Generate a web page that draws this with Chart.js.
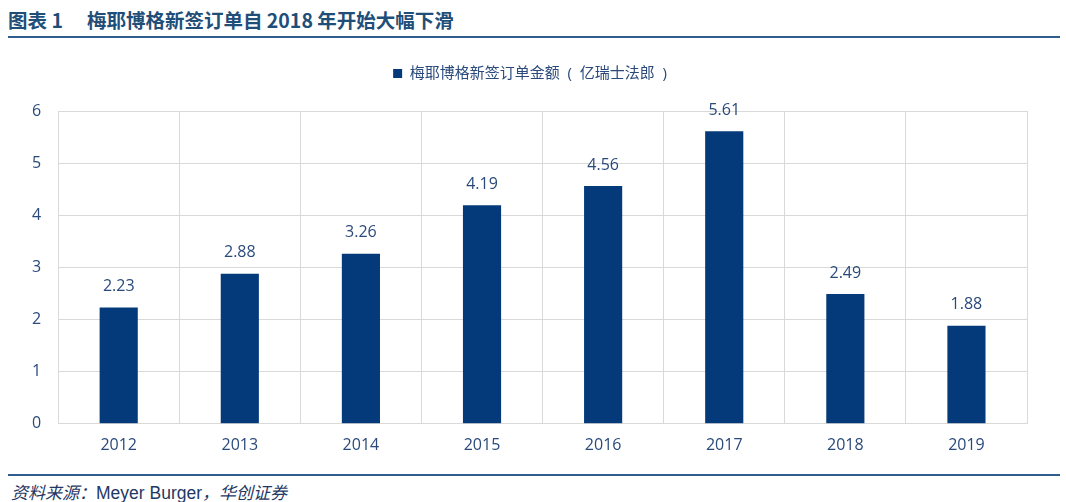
<!DOCTYPE html>
<html lang="zh">
<head>
    <meta charset="UTF-8">
    <title>梅耶博格新签订单</title>
    <script src="https://cdn.jsdelivr.net/npm/chart.js"></script>
    <style>
        body {
            margin: 0;
            padding: 0;
            width: 1066px;
            height: 502px;
            background: #fff;
            font-family: "Open Sans", "Noto Sans CJK SC", sans-serif;
            position: relative;
            overflow: hidden;
        }

        .title {
            position: absolute;
            left: 8px;
            top: 5px;
            font-size: 19.5px;
            font-weight: bold;
            color: #1f4e79;
            font-family: "Noto Sans CJK SC", sans-serif;
            white-space: nowrap;
        }

        .title span {
            margin-left: 24px;
        }

        .rule {
            position: absolute;
            left: 8px;
            right: 6px;
            height: 2px;
            background: #2e5d8e;
        }

        .source {
            position: absolute;
            left: 11px;
            top: 479px;
            font-size: 17.5px;
            color: #1f3864;
            white-space: nowrap;
            font-family: "Liberation Sans", Arial, sans-serif;
        }

        .source i {
            font-family: "Noto Sans CJK SC", sans-serif;
            font-size: 17px;
        }

        #chart-box {
            position: absolute;
            left: 0;
            top: 45px;
            width: 1066px;
            height: 422px;
        }
    </style>
</head>
<body>

    <div class="title">图表 1<span>梅耶博格新签订单自 2018 年开始大幅下滑</span></div>
    <div class="rule" style="top: 36px;"></div>

    <div id="chart-box">
        <canvas id="orders-chart"></canvas>
    </div>

    <div class="rule" style="top: 474px;"></div>
    <div class="source"><i>资料来源：</i>Meyer Burger<i>，华创证券</i></div>

    <script>
        const years = ['2012', '2013', '2014', '2015', '2016', '2017', '2018', '2019'];
        const orderValues = [2.23, 2.88, 3.26, 4.19, 4.56, 5.61, 2.49, 1.88];
        const seriesName = '梅耶博格新签订单金额  (  亿瑞士法郎  )';

        const textColor = '#2a4a7b';
        const barColor = '#053a7a';
        const fontFamily = '"Open Sans", "Noto Sans CJK SC", sans-serif';

        // values printed above each bar
        const barLabels = {
            id: 'barLabels',
            afterDatasetsDraw(chart) {
                const ctx = chart.ctx;
                const meta = chart.getDatasetMeta(0);
                ctx.save();
                ctx.font = '16px ' + fontFamily;
                ctx.fillStyle = textColor;
                ctx.textAlign = 'center';
                ctx.textBaseline = 'bottom';
                meta.data.forEach((bar, i) => {
                    ctx.fillText(orderValues[i].toFixed(2), bar.x, bar.y - 13);
                });
                ctx.restore();
            }
        };

        // extra room between legend and plot, legend nudged right
        const legendGap = {
            id: 'legendGap',
            beforeInit(chart) {
                const fit = chart.legend.fit;
                chart.legend.fit = function () {
                    fit.bind(chart.legend)();
                    this.height += 20;
                };
            },
            afterLayout(chart) {
                chart.legend.left += 9;
                chart.legend.right += 9;
            }
        };

        new Chart(document.getElementById('orders-chart'), {
            type: 'bar',
            data: {
                labels: years,
                datasets: [{
                    label: seriesName,
                    data: orderValues,
                    backgroundColor: barColor,
                    categoryPercentage: 1,
                    barPercentage: 0.315
                }]
            },
            options: {
                responsive: true,
                maintainAspectRatio: false,
                animation: false,
                layout: {
                    padding: { left: 15, right: 39, top: 0, bottom: 0 }
                },
                plugins: {
                    legend: {
                        display: true,
                        labels: {
                            color: textColor,
                            font: { size: 15, family: fontFamily },
                            boxWidth: 9,
                            boxHeight: 9,
                            padding: 21
                        }
                    },
                    tooltip: { enabled: false }
                },
                scales: {
                    x: {
                        grid: { color: '#d9d9d9', drawTicks: false },
                        border: { color: '#d9d9d9' },
                        ticks: {
                            color: textColor,
                            font: { size: 16, family: fontFamily },
                            padding: 12
                        }
                    },
                    y: {
                        min: 0,
                        max: 6,
                        grid: { color: '#d9d9d9', drawTicks: false },
                        border: { color: '#d9d9d9' },
                        ticks: {
                            stepSize: 1,
                            color: textColor,
                            font: { size: 16, family: fontFamily },
                            padding: 17
                        }
                    }
                }
            },
            plugins: [barLabels, legendGap]
        });
    </script>

</body>
</html>
